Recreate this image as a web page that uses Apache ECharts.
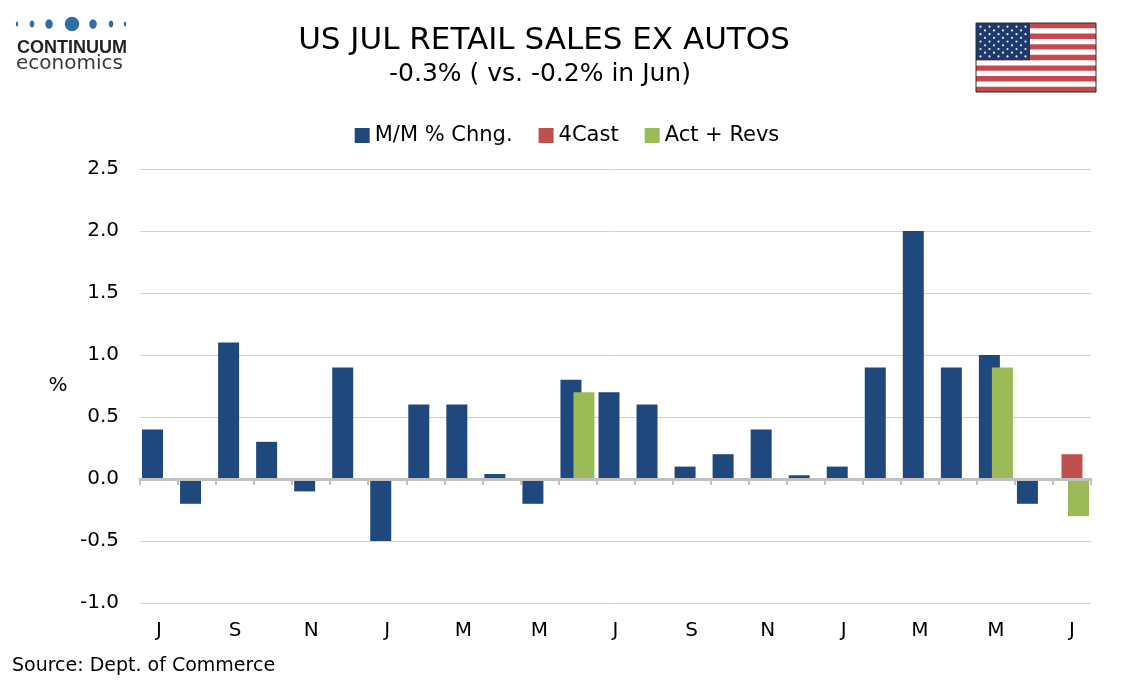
<!DOCTYPE html>
<html>
<head>
<meta charset="utf-8">
<title>US Jul Retail Sales ex Autos</title>
<script src="https://cdn.jsdelivr.net/npm/echarts@6/dist/echarts.min.js"></script>
<style>
	html, body { margin: 0; padding: 0; background: #fff; }
	#chart { width: 1134px; height: 680px; }
</style>
</head>
<body>
<div id="chart"></div>
<script>
// Jul 2023 .. Jul 2025, one letter per month
var months = ['J', 'A', 'S', 'O', 'N', 'D', 'J', 'F', 'M', 'A', 'M', 'J',
	'J', 'A', 'S', 'O', 'N', 'D', 'J', 'F', 'M', 'A', 'M', 'J', 'J'];

var mmChange = [0.4, -0.2, 1.1, 0.3, -0.1, 0.9, -0.5, 0.6, 0.6, 0.04, -0.2, 0.8,
	0.7, 0.6, 0.1, 0.2, 0.4, 0.03, 0.1, 0.9, 2.0, 0.9, 1.0, -0.2, null];

var forecast = [null, null, null, null, null, null, null, null, null, null, null, null,
	null, null, null, null, null, null, null, null, null, null, null, null, 0.2];

var actRevs = [null, null, null, null, null, null, null, null, null, null, null, 0.7,
	null, null, null, null, null, null, null, null, null, null, 0.9, null, -0.3];

var yMin = -1.0;
var yMax = 2.5;
var yStep = 0.5;

var FONT = 'DejaVu Sans';

function buildLogo() {
	var dots = [
		{ cx: 17, rx: 1.2, ry: 2.6 },
		{ cx: 32, rx: 2.3, ry: 3.4 },
		{ cx: 49, rx: 3.8, ry: 4.8 },
		{ cx: 72, rx: 7.2, ry: 7.2 },
		{ cx: 93, rx: 3.8, ry: 4.8 },
		{ cx: 111, rx: 2.3, ry: 3.4 },
		{ cx: 125, rx: 1.2, ry: 2.6 }
	];
	var els = [];
	for (var i = 0; i < dots.length; i++) {
		els.push({
			type: 'ellipse',
			shape: { cx: dots[i].cx, cy: 24, rx: dots[i].rx, ry: dots[i].ry },
			style: { fill: '#2f6ea6' }
		});
	}
	els.push({
		type: 'text', x: 17, y: 48,
		style: { text: 'CONTINUUM', font: 'bold 18px "Liberation Sans"', fill: '#231f20', verticalAlign: 'middle' }
	});
	els.push({
		type: 'text', x: 16, y: 64,
		style: { text: 'economics', font: '20px "DejaVu Sans"', fill: '#3a3a3a', verticalAlign: 'middle' }
	});
	return els;
}

function buildFlag() {
	var x0 = 976, y0 = 23, w = 120, h = 69;
	var stripe = h / 13;
	var els = [];
	els.push({ type: 'rect', shape: { x: x0, y: y0, width: w, height: h }, style: { fill: '#ffffff' } });
	for (var i = 0; i < 13; i += 2) {
		els.push({
			type: 'rect',
			shape: { x: x0, y: y0 + i * stripe, width: w, height: stripe },
			style: { fill: '#c8474c' }
		});
	}
	var cw = 54, ch = stripe * 7;
	els.push({ type: 'rect', shape: { x: x0, y: y0, width: cw, height: ch }, style: { fill: '#1e3a6d' } });
	for (var r = 0; r < 9; r++) {
		var n = (r % 2 == 0) ? 6 : 5;
		for (var k = 0; k < n; k++) {
			var sx = x0 + (cw / 12) * ((r % 2 == 0) ? (2 * k + 1) : (2 * k + 2));
			var sy = y0 + (ch / 10) * (r + 1);
			els.push({ type: 'circle', shape: { cx: sx, cy: sy, r: 1.1 }, style: { fill: '#e8eef6' } });
		}
	}
	els.push({
		type: 'rect', shape: { x: x0, y: y0, width: w, height: h },
		style: { fill: null, stroke: '#2a2a2a', lineWidth: 1 }
	});
	return els;
}

var graphics = [].concat(buildLogo(), buildFlag(), [
	{
		type: 'text', x: 544, y: 41,
		style: { text: 'US JUL RETAIL SALES EX AUTOS', font: '31px "DejaVu Sans"', fill: '#000', align: 'center', verticalAlign: 'middle' }
	},
	{
		type: 'text', x: 540, y: 74,
		style: { text: '-0.3% ( vs. -0.2% in Jun)', font: '25px "DejaVu Sans"', fill: '#000', align: 'center', verticalAlign: 'middle' }
	},
	{
		type: 'text', x: 58, y: 386,
		style: { text: '%', font: '20px "DejaVu Sans"', fill: '#000', align: 'center', verticalAlign: 'middle' }
	},
	{
		type: 'text', x: 12, y: 666,
		style: { text: 'Source: Dept. of Commerce', font: '19px "DejaVu Sans"', fill: '#000', verticalAlign: 'middle' }
	}
]);

var dom = document.getElementById('chart');
var myChart = echarts.init(dom, null, { renderer: 'canvas' });

var option = {
	animation: false,
	backgroundColor: '#ffffff',
	textStyle: { fontFamily: FONT },
	legend: {
		data: ['M/M % Chng.', '4Cast', 'Act + Revs'],
		left: 'center',
		top: 120,
		icon: 'rect',
		itemWidth: 15,
		itemHeight: 15,
		itemGap: 26,
		textStyle: { fontFamily: FONT, fontSize: 21, color: '#000' }
	},
	grid: {
		left: 140,
		right: 43,
		top: 169,
		bottom: 77,
		outerBoundsMode: 'none'
	},
	xAxis: [
		{
			type: 'category',
			data: months,
			position: 'bottom',
			axisLine: { show: false, onZero: false },
			axisTick: { show: false },
			axisLabel: { interval: 1, fontFamily: FONT, fontSize: 20, color: '#000', margin: 18 }
		},
		{
			type: 'category',
			data: months,
			position: 'bottom',
			z: 5,
			axisLine: { show: true, onZero: true, lineStyle: { color: '#bfbfbf', width: 3 } },
			axisTick: { show: true, interval: 0, length: 6, lineStyle: { color: '#bfbfbf', width: 2 } },
			axisLabel: { show: false }
		}
	],
	yAxis: {
		type: 'value',
		min: yMin,
		max: yMax,
		interval: yStep,
		axisLine: { show: false },
		axisTick: { show: false },
		splitLine: { lineStyle: { color: '#d0d0d0', width: 1 } },
		axisLabel: {
			fontFamily: FONT, fontSize: 20, color: '#000', margin: 21,
			formatter: function (v) { return v.toFixed(1); }
		}
	},
	series: [
		{
			name: 'M/M % Chng.',
			type: 'bar',
			data: mmChange,
			barWidth: 21,
			barGap: '-69%',
			itemStyle: { color: '#1f497d' }
		},
		{
			name: '4Cast',
			type: 'bar',
			data: forecast,
			barWidth: 21,
			barGap: '-69%',
			itemStyle: { color: '#c0504d' }
		},
		{
			name: 'Act + Revs',
			type: 'bar',
			data: actRevs,
			barWidth: 21,
			barGap: '-69%',
			itemStyle: { color: '#9bbb59' }
		}
	],
	graphic: graphics
};

myChart.setOption(option, true);
</script>
</body>
</html>
